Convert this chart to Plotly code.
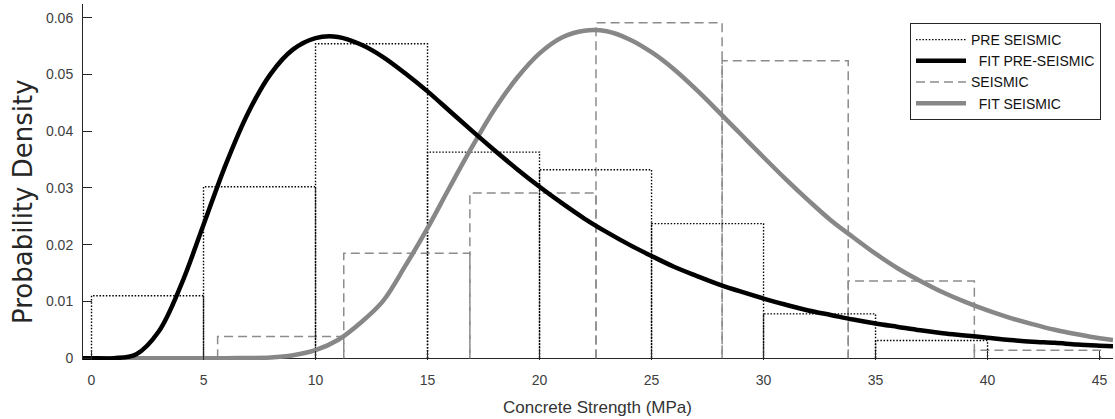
import plotly.graph_objects as go

# Histogram of pre-seismic concrete strengths (bin edges in MPa, probability density)
pre_edges = [0, 5, 10, 15, 20, 25, 30, 35, 40]
pre_density = [0.0110, 0.0302, 0.0554, 0.0363, 0.0332, 0.0237, 0.0078, 0.0031]

# Histogram of seismic-era concrete strengths
seis_edges = [5.63, 11.26, 16.89, 22.52, 28.15, 33.78, 39.41, 45.04]
seis_density = [0.0038, 0.0185, 0.0291, 0.0591, 0.0524, 0.0136, 0.0014]

# Fitted density curves, sampled every 1 MPa
fit_x = [-0.4, 0, 1, 2, 3, 4, 5, 6, 7, 8, 9, 10, 11, 12, 13, 14, 15, 16, 17, 18, 19,
         20, 21, 22, 23, 24, 25, 26, 27, 28, 29, 30, 31, 32, 33, 34, 35, 36, 37, 38,
         39, 40, 41, 42, 43, 44, 45, 45.6]

fit_pre_y = [0.0, 0.0, 0.0000, 0.0007, 0.0047, 0.0129, 0.0235, 0.0342, 0.0433, 0.0501,
             0.0544, 0.0564, 0.0566, 0.0553, 0.0531, 0.0502, 0.0470, 0.0435, 0.0400,
             0.0366, 0.0333, 0.0302, 0.0273, 0.0246, 0.0222, 0.0200, 0.0180, 0.0161,
             0.0145, 0.0130, 0.0117, 0.0105, 0.0094, 0.0084, 0.0076, 0.0068, 0.0061,
             0.0055, 0.0049, 0.0044, 0.0040, 0.0036, 0.0032, 0.0029, 0.0027, 0.0024,
             0.0022, 0.0021]

fit_seis_y = [0.0, 0.0, 0.0, 0.0, 0.0, 0.0, 0.0, 0.0, 0.00002, 0.0001, 0.0005, 0.0014,
              0.0032, 0.0062, 0.0100, 0.0162, 0.0229, 0.0302, 0.0373, 0.0439, 0.0494,
              0.0537, 0.0565, 0.0577, 0.0576, 0.0562, 0.0539, 0.0509, 0.0473, 0.0434,
              0.0394, 0.0354, 0.0315, 0.0278, 0.0243, 0.0213, 0.0184, 0.0158, 0.0136,
              0.0116, 0.0099, 0.0084, 0.0071, 0.0060, 0.0050, 0.0042, 0.0035, 0.0032]

x_ticks = [0, 5, 10, 15, 20, 25, 30, 35, 40, 45]
y_ticks = [0, 0.01, 0.02, 0.03, 0.04, 0.05, 0.06]
y_tick_text = ["0", "0.01", "0.02", "0.03", "0.04", "0.05", "0.06"]

FONT = "Liberation Sans, Arial, sans-serif"
AXIS = "#262626"


def bar_outline(edges, dens):
    """Open outline of each histogram bar (left side, top, right side)."""
    xs, ys = [], []
    for i, h in enumerate(dens):
        xs += [edges[i], edges[i], edges[i + 1], edges[i + 1], None]
        ys += [0, h, h, 0, None]
    return xs, ys


fig = go.Figure()

sx, sy = bar_outline(seis_edges, seis_density)
fig.add_trace(go.Scatter(
    x=sx, y=sy, mode="lines", name="SEISMIC", legendrank=3,
    line=dict(color="#8c8c8c", width=1.5, dash="9px,5px"),
    connectgaps=False, hoverinfo="skip"))

px_, py_ = bar_outline(pre_edges, pre_density)
fig.add_trace(go.Scatter(
    x=px_, y=py_, mode="lines", name="PRE SEISMIC", legendrank=1,
    line=dict(color="#000000", width=1.4, dash="1.5px,1.7px"),
    connectgaps=False, hoverinfo="skip"))

fig.add_trace(go.Scatter(
    x=fit_x, y=fit_seis_y, mode="lines", name="\u00a0\u00a0FIT SEISMIC", legendrank=4,
    line=dict(color="#878787", width=4.5, shape="spline", smoothing=1.0)))

fig.add_trace(go.Scatter(
    x=fit_x, y=fit_pre_y, mode="lines", name="\u00a0\u00a0FIT PRE-SEISMIC", legendrank=2,
    line=dict(color="#000000", width=4.5, shape="spline", smoothing=1.0)))

fig.update_layout(
    width=1115, height=419,
    margin=dict(l=83, r=2, t=4, b=59),
    paper_bgcolor="white", plot_bgcolor="white",
    font=dict(family=FONT, color=AXIS),
    showlegend=True,
    legend=dict(
        x=(910 - 83) / 1030, y=(360 - 23) / 356, xanchor="left", yanchor="top",
        bgcolor="white", bordercolor=AXIS, borderwidth=1,
        font=dict(family=FONT, size=14, color="#111111"),
        itemwidth=50, tracegroupgap=0,
    ),
    xaxis=dict(
        range=[-0.38, 45.6], tickmode="array", tickvals=x_ticks,
        ticks="inside", ticklen=9, tickcolor=AXIS, tickwidth=1,
        showline=False, showgrid=False, zeroline=False,
        tickfont=dict(family=FONT, size=14, color="#404040"),
        ticklabelstandoff=10,
    ),
    yaxis=dict(
        range=[-0.00033, 0.0624], tickmode="array", tickvals=y_ticks, ticktext=y_tick_text,
        ticks="inside", ticklen=9, tickcolor=AXIS, tickwidth=1,
        showline=True, linecolor=AXIS, linewidth=1,
        showgrid=False, zeroline=True, zerolinecolor=AXIS, zerolinewidth=1,
        tickfont=dict(family=FONT, size=14, color="#404040"),
        ticklabelstandoff=6,
    ),
    annotations=[
        dict(text="Probability Density", textangle=-90, showarrow=False,
             xref="paper", yref="paper", x=(23 - 83) / 1030, y=(360 - 202) / 356,
             xanchor="center", yanchor="middle",
             font=dict(family="DejaVu Sans, sans-serif", size=26, color=AXIS)),
        dict(text="Concrete Strength (MPa)", showarrow=False,
             xref="paper", yref="paper", x=(597.5 - 83) / 1030, y=(360 - 407) / 356,
             xanchor="center", yanchor="middle",
             font=dict(family=FONT, size=17, color="#333333")),
    ],
)

fig.write_html("out.html")
